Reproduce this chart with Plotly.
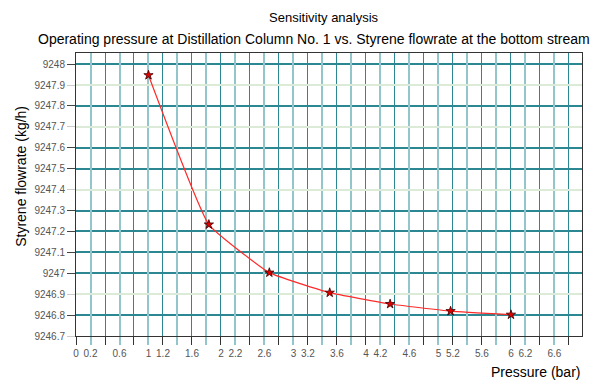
import plotly.graph_objects as go

# Sensitivity results: column operating pressure vs. styrene in the bottoms
pressure_bar = [1.0, 1.833, 2.667, 3.5, 4.333, 5.167, 6.0]
styrene_kgh = [9247.947, 9247.233, 9247.003, 9246.907, 9246.853, 9246.819, 9246.802]

# Tick layout: darker and lighter grid lines alternate on both axes
x_dark_ticks = [0.0, 0.4, 0.8, 1.2, 1.6, 2.0, 2.4, 2.8, 3.2, 3.6, 4.0, 4.4, 4.8, 5.2, 5.6, 6.0, 6.4, 6.8]
x_dark_text = ["0", "", "", "1.2", "1.6", "2", "", "", "3.2", "3.6", "4", "", "", "5.2", "5.6", "6", "", ""]
x_light_ticks = [0.2, 0.6, 1.0, 1.4, 1.8, 2.2, 2.6, 3.0, 3.4, 3.8, 4.2, 4.6, 5.0, 5.4, 5.8, 6.2, 6.6]
x_light_text = ["0.2", "0.6", "1", "", "", "2.2", "2.6", "3", "", "", "4.2", "4.6", "5", "", "", "6.2", "6.6"]

y_dark_ticks = [9246.8, 9247.0, 9247.1, 9247.2, 9247.3, 9247.5, 9247.6, 9247.8, 9248.0]
y_dark_text = ["9246.8", "9247", "9247.1", "9247.2", "9247.3", "9247.5", "9247.6", "9247.8", "9248"]
y_light_ticks = [9246.7, 9246.9, 9247.4, 9247.7, 9247.9]
y_light_text = ["9246.7", "9246.9", "9247.4", "9247.7", "9247.9"]

x_range = [0, 6.98]
y_range = [9246.7, 9248.053]

FONT = "Liberation Sans, Arial, sans-serif"
DARK_GRID = "#2b8792"
LIGHT_VGRID = "#93c6ca"
LIGHT_HGRID = "#dcebd8"
TICK_FONT = dict(family=FONT, size=10, color="#555555")

fig = go.Figure()
# empty trace so the overlaid secondary axes (light grid set) get drawn
fig.add_trace(go.Scatter(x=[], y=[], xaxis="x2", yaxis="y2",
                         showlegend=False, hoverinfo="skip"))
fig.add_trace(go.Scatter(
    x=pressure_bar, y=styrene_kgh,
    mode="lines+markers",
    line=dict(color="#ff2a2a", width=1.2, shape="spline", smoothing=0.35),
    marker=dict(symbol="star", size=7, color="#e00000",
                line=dict(color="#3a0000", width=0.8)),
    showlegend=False,
))

fig.update_layout(
    width=600, height=383,
    margin=dict(l=76, r=18, t=53, b=47),
    paper_bgcolor="white", plot_bgcolor="white",
    font=dict(family=FONT, color="black"),
    xaxis=dict(
        range=x_range, tickmode="array", tickvals=x_dark_ticks, ticktext=x_dark_text,
        showgrid=True, gridcolor=DARK_GRID, gridwidth=1.3,
        ticks="outside", ticklen=8, tickcolor="#333333", tickwidth=1,
        tickfont=TICK_FONT, showline=True, linecolor="#333333", linewidth=1,
        mirror=True, zeroline=False,
    ),
    xaxis2=dict(
        range=x_range, overlaying="x", anchor="y2", side="bottom",
        tickmode="array", tickvals=x_light_ticks, ticktext=x_light_text,
        showgrid=True, gridcolor=LIGHT_VGRID, gridwidth=2,
        ticks="outside", ticklen=8, tickcolor=LIGHT_VGRID, tickwidth=2,
        tickfont=TICK_FONT, showline=False, zeroline=False,
    ),
    yaxis=dict(
        range=y_range, tickmode="array", tickvals=y_dark_ticks, ticktext=y_dark_text,
        showgrid=True, gridcolor=DARK_GRID, gridwidth=1.5,
        ticks="outside", ticklen=8, tickcolor="#444444", tickwidth=1.3,
        tickfont=TICK_FONT, showline=True, linecolor="#333333", linewidth=1,
        mirror=True, zeroline=False,
    ),
    yaxis2=dict(
        range=y_range, overlaying="y", anchor="x2", side="left",
        tickmode="array", tickvals=y_light_ticks, ticktext=y_light_text,
        showgrid=True, gridcolor=LIGHT_HGRID, gridwidth=2,
        ticks="outside", ticklen=8, tickcolor="#cccccc", tickwidth=1.3,
        tickfont=TICK_FONT, showline=False, zeroline=False,
    ),
)

fig.add_annotation(text="Sensitivity analysis", xref="paper", yref="paper",
                   x=(324 - 76) / 506, y=1 + (53 - 18) / 282.7,
                   xanchor="center", yanchor="middle", showarrow=False,
                   font=dict(family=FONT, size=13, color="black"))
fig.add_annotation(text="Operating pressure at Distillation Column No. 1 vs. Styrene flowrate at the bottom stream",
                   xref="paper", yref="paper",
                   x=(314 - 76) / 506, y=1 + (53 - 39) / 282.7,
                   xanchor="center", yanchor="middle", showarrow=False,
                   font=dict(family=FONT, size=14, color="black"))
fig.add_annotation(text="Styrene flowrate (kg/h)", xref="paper", yref="paper",
                   x=-(76 - 21) / 506, y=(336 - 177) / 282.7, textangle=-90,
                   xanchor="center", yanchor="middle", showarrow=False,
                   font=dict(family=FONT, size=14, color="black"))
fig.add_annotation(text="Pressure (bar)", xref="paper", yref="paper",
                   x=1, y=-(372 - 336) / 282.7,
                   xanchor="right", yanchor="middle", showarrow=False,
                   font=dict(family=FONT, size=14, color="black"))

fig.write_html("out.html")
